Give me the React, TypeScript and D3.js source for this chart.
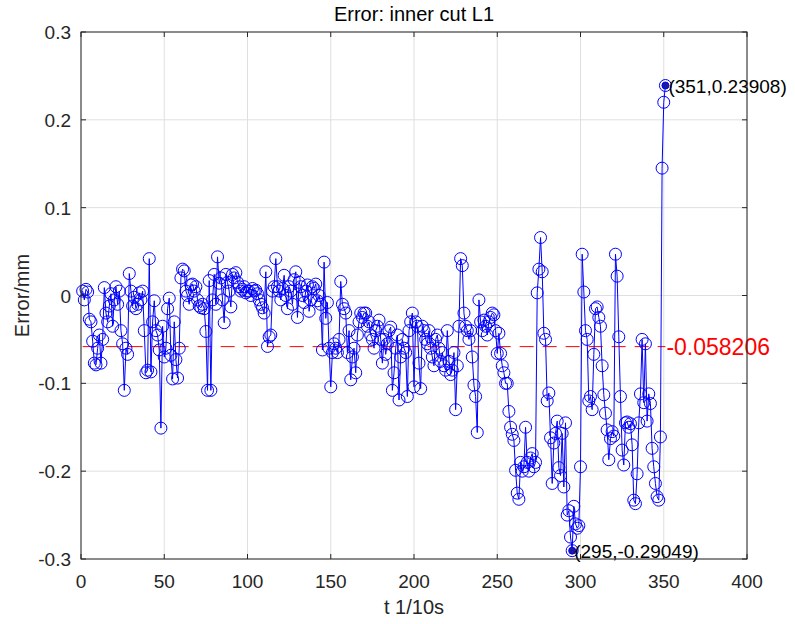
import React from "react";
import * as d3 from "d3";

const errorValues: number[] = [
  0.005, -0.005, 0.007, 0.004, -0.027, -0.03, -0.052, -0.077, -0.079, -0.06,
  -0.045, -0.077, -0.05, 0.009, -0.02, -0.03, -0.012, 0.002, -0.035, -0.005,
  0.01, -0.01, 0.005, -0.04, -0.055, -0.108, -0.06, -0.067, 0.025, 0.005,
  -0.012, -0.002, -0.015, -0.01, 0.003, -0.005, 0.005, -0.04, -0.088, -0.085,
  0.042, -0.087, -0.03, -0.006, -0.04, -0.045, -0.062, -0.151, -0.035, -0.07,
  -0.06, -0.015, -0.003, -0.068, -0.095, -0.03, -0.073, -0.094, -0.06, 0.02,
  0.03, 0.028, 0.005, 0.0, -0.01, 0.012, 0.013, 0.005, 0.01, -0.005,
  -0.012, -0.014, -0.01, -0.015, -0.041, -0.108, 0.017, -0.108, -0.005, 0.024,
  -0.01, 0.044, 0.014, 0.02, -0.005, -0.031, 0.024, 0.015, 0.005, -0.013,
  0.024, 0.02, 0.026, 0.015, 0.01, 0.005, 0.007, 0.01, 0.003, 0.005,
  0.005, 0.0, 0.008, 0.005, 0.006, 0.002, -0.005, -0.01, -0.014, -0.02,
  0.027, -0.058, -0.047, -0.045, 0.005, 0.01, 0.042, 0.01, 0.005, -0.005,
  0.008, 0.023, 0.0, -0.015, 0.01, 0.005, -0.01, 0.018, 0.027, -0.025,
  0.015, 0.01, 0.0, -0.008, 0.005, 0.012, -0.018, -0.005, 0.01, 0.008,
  0.013, -0.006, 0.0, -0.01, -0.062, 0.038, -0.026, -0.008, -0.06, -0.104,
  -0.065, -0.055, -0.06, -0.065, -0.05, 0.016, -0.01, -0.015, -0.02, -0.065,
  -0.04, -0.096, -0.07, -0.06, -0.088, -0.045, -0.03, -0.02, -0.025, -0.02,
  -0.02, -0.035, -0.03, -0.045, -0.05, -0.06, -0.04, -0.035, -0.028, -0.05,
  -0.077, -0.05, -0.067, -0.055, -0.04, -0.036, -0.108, -0.088, -0.06, -0.045,
  -0.119, -0.07, -0.05, -0.06, -0.065, -0.115, -0.04, -0.03, -0.02, -0.104,
  -0.03, -0.035, -0.077, -0.106, -0.035, -0.04, -0.05, -0.055, -0.04, -0.06,
  -0.07, -0.08, -0.05, -0.045, -0.06, -0.075, -0.065, -0.08, -0.085, -0.04,
  -0.075, -0.09, -0.085, -0.065, -0.13, -0.08, -0.035, 0.042, 0.034, -0.02,
  -0.035, -0.04, -0.05, -0.04, -0.07, -0.102, -0.115, -0.156, -0.005, -0.03,
  -0.04, -0.028, -0.035, -0.045, -0.03, -0.025, -0.02, -0.022, -0.04, -0.066,
  -0.043, -0.066, -0.08, -0.088, -0.1, -0.1, -0.132, -0.15, -0.158, -0.165,
  -0.199, -0.225, -0.232, -0.19, -0.2, -0.195, -0.15, -0.19, -0.2, -0.185,
  -0.18, -0.195, -0.19, 0.003, 0.03, 0.066, 0.027, -0.043, -0.05, -0.12,
  -0.111, -0.162, -0.214, -0.168, -0.157, -0.143, -0.196, -0.205, -0.157, -0.218,
  -0.145, -0.25, -0.245, -0.275, -0.29049, -0.24, -0.26, -0.265, -0.262, -0.195,
  0.047, 0.004, -0.04, -0.05, -0.12, -0.115, -0.13, -0.067, -0.015, -0.013,
  -0.025, -0.035, -0.08, -0.113, -0.134, -0.153, -0.187, -0.163, -0.155, -0.16,
  0.047, 0.022, -0.047, -0.115, -0.176, -0.193, -0.145, -0.144, -0.15, -0.146,
  -0.17, -0.233, -0.237, -0.203, -0.145, -0.112, -0.05, -0.122, -0.055, -0.143,
  -0.112, -0.123, -0.174, -0.195, -0.214, -0.229, -0.233, -0.161, 0.145, 0.22, 0.23908,
];

const xTicks = [0, 50, 100, 150, 200, 250, 300, 350, 400];
const yTicks = [-0.3, -0.2, -0.1, 0, 0.1, 0.2, 0.3];
const meanValue = -0.058206;
const maxPoint = { t: 351, v: 0.23908 };
const minPoint = { t: 295, v: -0.29049 };
const titleText = "Error: inner cut L1";
const xLabel = "t 1/10s";
const yLabel = "Error/mm";

const W = 795;
const H = 624;
const L = 81;
const R = 747;
const T = 32;
const B = 559;

export default function App() {
  const x = d3.scaleLinear().domain([0, 400]).range([L, R]);
  const y = d3.scaleLinear().domain([-0.3, 0.3]).range([B, T]);
  const pts = errorValues.map((v, i) => ({ t: i + 1, v }));
  const line = d3
    .line<{ t: number; v: number }>()
    .x((d) => x(d.t))
    .y((d) => y(d.v));
  const axisColor = "#262626";
  const font = "'Liberation Sans', Arial, Helvetica, sans-serif";
  const fmtY = (v: number) => (Math.abs(v) < 1e-9 ? "0" : String(+v.toFixed(1)));
  const firstT = pts[0].t;
  const lastT = pts[pts.length - 1].t;
  const tickFs = 19;

  return (
    <svg
      width={W}
      height={H}
      style={{ position: "absolute", left: 0, top: 0, background: "#fff" }}
      fontFamily={font}
    >
      <rect x={0} y={0} width={W} height={H} fill="#fff" />
      {xTicks.map((t) => (
        <line key={"gx" + t} x1={x(t)} x2={x(t)} y1={T} y2={B} stroke="#dfdfdf" strokeWidth={1} />
      ))}
      {yTicks.map((v) => (
        <line key={"gy" + v} x1={L} x2={R} y1={y(v)} y2={y(v)} stroke="#dfdfdf" strokeWidth={1} />
      ))}
      <line
        x1={x(firstT)}
        x2={x(lastT)}
        y1={y(meanValue)}
        y2={y(meanValue)}
        stroke="#ff0000"
        strokeWidth={1}
        strokeDasharray="14,9"
      />
      <path d={line(pts) || ""} fill="none" stroke="#0000ff" strokeWidth={1} />
      {pts.map((p) => (
        <circle key={"c" + p.t} cx={x(p.t)} cy={y(p.v)} r={6} fill="none" stroke="#0000ff" strokeWidth={1} />
      ))}
      {[maxPoint, minPoint].map((p) => (
        <circle key={"tip" + p.t} cx={x(p.t)} cy={y(p.v)} r={3.5} fill="#1a1aa0" stroke="#0000ff" />
      ))}
      <text x={x(maxPoint.t) + 3} y={y(maxPoint.v) + 7} fontSize={19} fill="#000">
        {`(${maxPoint.t},${maxPoint.v})`}
      </text>
      <text x={x(minPoint.t) + 2} y={y(minPoint.v) + 7} fontSize={19} fill="#000">
        {`(${minPoint.t},${minPoint.v})`}
      </text>
      <text x={x(lastT) + 1} y={y(meanValue) + 8} fontSize={23} fill="#ff0000">
        {meanValue.toString()}
      </text>
      <rect x={L} y={T} width={R - L} height={B - T} fill="none" stroke={axisColor} strokeWidth={1} />
      {xTicks.map((t) => (
        <g key={"xt" + t}>
          <line x1={x(t)} x2={x(t)} y1={B} y2={B - 5} stroke={axisColor} />
          <line x1={x(t)} x2={x(t)} y1={T} y2={T + 5} stroke={axisColor} />
          <text x={x(t)} y={B + 29} textAnchor="middle" fontSize={tickFs} fill={axisColor}>
            {t}
          </text>
        </g>
      ))}
      {yTicks.map((v) => (
        <g key={"yt" + v}>
          <line x1={L} x2={L + 5} y1={y(v)} y2={y(v)} stroke={axisColor} />
          <line x1={R} x2={R - 5} y1={y(v)} y2={y(v)} stroke={axisColor} />
          <text x={L - 10} y={y(v) + 7} textAnchor="end" fontSize={tickFs} fill={axisColor}>
            {fmtY(v)}
          </text>
        </g>
      ))}
      <text x={(L + R) / 2} y={21} textAnchor="middle" fontSize={20} fill="#000">
        {titleText}
      </text>
      <text x={(L + R) / 2} y={614} textAnchor="middle" fontSize={20} fill={axisColor}>
        {xLabel}
      </text>
      <text
        transform={`translate(29,${(T + B) / 2}) rotate(-90)`}
        textAnchor="middle"
        fontSize={20}
        fill={axisColor}
      >
        {yLabel}
      </text>
    </svg>
  );
}
